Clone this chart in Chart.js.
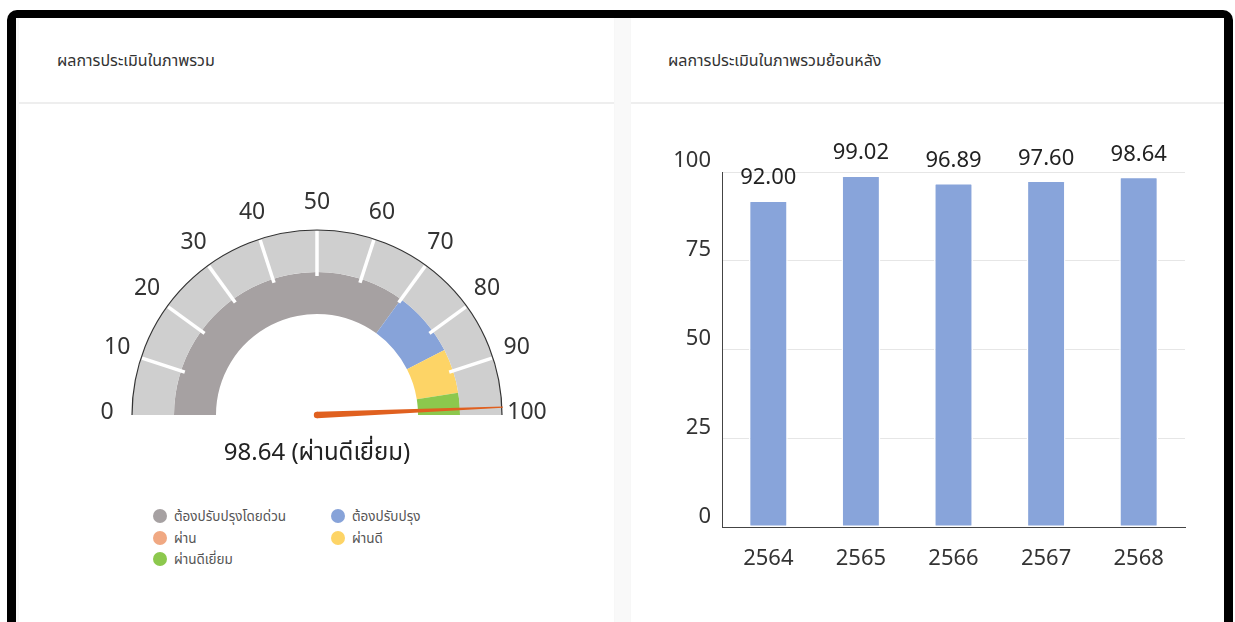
<!DOCTYPE html>
<html>
<head>
<meta charset="utf-8">
<script src="https://cdn.jsdelivr.net/npm/chart.js@4.4.1/dist/chart.umd.min.js"></script>
<style>
  html, body { margin: 0; padding: 0; background: #ffffff; }
  body { width: 1235px; height: 622px; overflow: hidden; position: relative;
         font-family: "Noto Sans", "Noto Sans Thai", "Loma", "Garuda", "DejaVu Sans", sans-serif; }
  #frame { position: absolute; left: 7px; top: 10px; width: 1226px; height: 720px; background: #000; border-radius: 10px; }
  #inner { position: absolute; left: 16px; top: 18px; width: 1208px; height: 700px; background: #f9f9f9; }
  .card { position: absolute; top: 18px; height: 700px; background: #ffffff; box-shadow: 0 0 2px rgba(0,0,0,0.03); }
  #cardL { left: 19px; width: 595px; }
  #cardR { left: 631px; width: 593px; }
  .hdr { position: absolute; left: 0; top: 0; right: 0; height: 84px; border-bottom: 2px solid #eeeeee; }
  .ttl { position: absolute; top: 31px; font-size: 16px; color: #333; white-space: nowrap; line-height: 22px; }
  canvas { position: absolute; }
  #legend { position: absolute; left: 153px; top: 506px; width: 300px; font-size: 13.5px; color: #555; }
  .li { position: absolute; white-space: nowrap; line-height: 20px; height: 20px; }
  .dot { position: absolute; left: 0; top: 3px; width: 14px; height: 14px; border-radius: 50%; }
  .lt { position: absolute; left: 21px; top: 0; }
</style>
</head>
<body>
<div id="frame"></div>
<div id="inner"></div>
<div class="card" id="cardL"><div class="hdr"><div class="ttl" style="left:38px">ผลการประเมินในภาพรวม</div></div></div>
<div class="card" id="cardR"><div class="hdr"><div class="ttl" style="left:37px">ผลการประเมินในภาพรวมย้อนหลัง</div></div></div>
<canvas id="gauge" width="490" height="305" style="left:72px; top:170px; width:490px; height:305px;"></canvas>
<canvas id="bars" width="590" height="480" style="left:640px; top:120px; width:590px; height:480px;"></canvas>
<div id="legend"></div>
<script>
// ---------- data ----------
const gaugeCategories = ['ต้องปรับปรุงโดยด่วน', 'ต้องปรับปรุง', 'ผ่าน', 'ผ่านดี', 'ผ่านดีเยี่ยม'];
const gaugeBandValues = [70, 15, 0, 10, 5];
const gaugeTickLabels = [0, 10, 20, 30, 40, 50, 60, 70, 80, 90, 100];
const gaugeScore = 98.64;
const gaugeScoreText = 'ผ่านดีเยี่ยม';

const years = ['2564', '2565', '2566', '2567', '2568'];
const yearScores = [92.00, 99.02, 96.89, 97.60, 98.64];
const yTickValues = [0, 25, 50, 75, 100];

// ---------- styles ----------
const gaugeColors = ['#a6a1a2', '#87a3d9', '#f0a882', '#fdd466', '#8cc84d'];
const ringColor = '#cfcfcf';
const needleColor = '#e0601f';
const barColor = '#88a4da';
const FONT = '"Noto Sans", "Noto Sans Thai", "Loma", "Garuda", "DejaVu Sans", sans-serif';

// legend (HTML, two columns)
const legendEl = document.getElementById('legend');
gaugeCategories.forEach((name, i) => {
  const d = document.createElement('div');
  d.className = 'li';
  d.style.left = (i % 2 === 0 ? 0 : 178) + 'px';
  d.style.top = (Math.floor(i / 2) * 21.5) + 'px';
  d.innerHTML = '<span class="dot" style="background:' + gaugeColors[i] + '"></span><span class="lt"></span>';
  d.querySelector('.lt').textContent = name;
  legendEl.appendChild(d);
});

// outer ring segments from tick labels
const ringSegments = gaugeTickLabels.slice(1).map((v, i) => v - gaugeTickLabels[i]);

const gaugePlugin = {
  id: 'gaugeDecor',
  afterDatasetsDraw(chart) {
    const ctx = chart.ctx;
    const ringMeta = chart.getDatasetMeta(0);
    const first = ringMeta.data[0];
    const cx = first.x, cy = first.y;
    const rOut = first.outerRadius, rIn = first.innerRadius;
    ctx.save();
    // white separators
    ctx.strokeStyle = '#ffffff';
    ctx.lineWidth = 3.5;
    ringMeta.data.forEach((arc, i) => {
      if (i === 0) return;
      const a = arc.startAngle;
      ctx.beginPath();
      ctx.moveTo(cx + Math.cos(a) * (rIn - 4), cy + Math.sin(a) * (rIn - 4));
      ctx.lineTo(cx + Math.cos(a) * (rOut - 1), cy + Math.sin(a) * (rOut - 1));
      ctx.stroke();
    });
    // outer thin arc
    ctx.strokeStyle = '#333333';
    ctx.lineWidth = 1.2;
    ctx.beginPath();
    ctx.arc(cx, cy, rOut, Math.PI, 2 * Math.PI);
    ctx.stroke();
    // tick labels
    ctx.fillStyle = '#333333';
    ctx.font = '23px ' + FONT;
    ctx.textAlign = 'center';
    ctx.textBaseline = 'middle';
    const total = gaugeTickLabels[gaugeTickLabels.length - 1] - gaugeTickLabels[0];
    gaugeTickLabels.forEach(v => {
      const a = Math.PI + Math.PI * (v - gaugeTickLabels[0]) / total;
      const r = rOut + 25;
      ctx.fillText(String(v), cx + Math.cos(a) * r, cy + Math.sin(a) * r - 3);
    });
    // needle
    const na = Math.PI + Math.PI * (gaugeScore - gaugeTickLabels[0]) / total;
    const len = rOut + 1;
    const tx = cx + Math.cos(na) * len, ty = cy + Math.sin(na) * len;
    const px = -Math.sin(na), py = Math.cos(na);
    const w0 = 3.2, w1 = 0.6;
    ctx.fillStyle = needleColor;
    ctx.beginPath();
    ctx.moveTo(cx + px * w0, cy + py * w0);
    ctx.lineTo(tx + px * w1, ty + py * w1);
    ctx.lineTo(tx - px * w1, ty - py * w1);
    ctx.lineTo(cx - px * w0, cy - py * w0);
    ctx.closePath();
    ctx.fill();
    ctx.beginPath();
    ctx.arc(cx, cy, w0, 0, 2 * Math.PI);
    ctx.fill();
    // score text
    ctx.fillStyle = '#222222';
    ctx.font = '24px ' + FONT;
    ctx.textBaseline = 'alphabetic';
    ctx.fillText(gaugeScore.toFixed(2) + ' (' + gaugeScoreText + ')', cx, cy + 45);
    ctx.restore();
  }
};

new Chart(document.getElementById('gauge'), {
  type: 'doughnut',
  data: {
    labels: gaugeCategories,
    datasets: [
      { data: ringSegments, backgroundColor: ringColor, borderWidth: 0 },
      { data: gaugeBandValues, backgroundColor: gaugeColors, borderWidth: 0 }
    ]
  },
  options: {
    responsive: false,
    animation: false,
    events: [],
    rotation: -90,
    circumference: 180,
    cutout: '54.6%',
    layout: { padding: { left: 60, right: 60, top: 60, bottom: 60 } },
    plugins: { legend: { display: false }, tooltip: { enabled: false } }
  },
  plugins: [gaugePlugin]
});

const barLabelPlugin = {
  id: 'barLabels',
  afterDatasetsDraw(chart) {
    const ctx = chart.ctx;
    const meta = chart.getDatasetMeta(0);
    const ys = chart.scales.y;
    ctx.save();
    ctx.fillStyle = '#222222';
    ctx.font = '22px ' + FONT;
    ctx.textAlign = 'center';
    ctx.textBaseline = 'alphabetic';
    meta.data.forEach((bar, i) => {
      const top = ys.getPixelForValue(yearScores[i]);
      ctx.fillText(yearScores[i].toFixed(2), bar.x, top - 16);
    });
    ctx.restore();
  }
};

new Chart(document.getElementById('bars'), {
  type: 'bar',
  data: {
    labels: years,
    datasets: [{
      data: yearScores,
      backgroundColor: barColor,
      borderColor: '#ffffff',
      borderWidth: 1.5,
      borderSkipped: false,
      borderRadius: 2,
      barPercentage: 0.42,
      categoryPercentage: 1
    }]
  },
  options: {
    responsive: false,
    animation: false,
    events: [],
    layout: { padding: { left: 0, right: 45, top: 52, bottom: 0 } },
    scales: {
      x: {
        grid: { display: false, drawTicks: false },
        border: { display: true, color: '#444444', width: 1 },
        ticks: { padding: 18, color: '#333333', font: { size: 22, family: FONT } },
        afterFit(s) { s.height = 72.5; }
      },
      y: {
        min: 0, max: 100,
        afterBuildTicks(s) { s.ticks = yTickValues.map(v => ({ value: v })); },
        grid: { color: '#e6e6e6', drawTicks: false },
        border: { display: true, color: '#444444', width: 1 },
        ticks: { padding: 11, labelOffset: -11, color: '#333333', font: { size: 22, family: FONT } },
        afterFit(s) { s.width = 82; }
      }
    },
    plugins: { legend: { display: false }, tooltip: { enabled: false } }
  },
  plugins: [barLabelPlugin]
});
</script>
</body>
</html>
